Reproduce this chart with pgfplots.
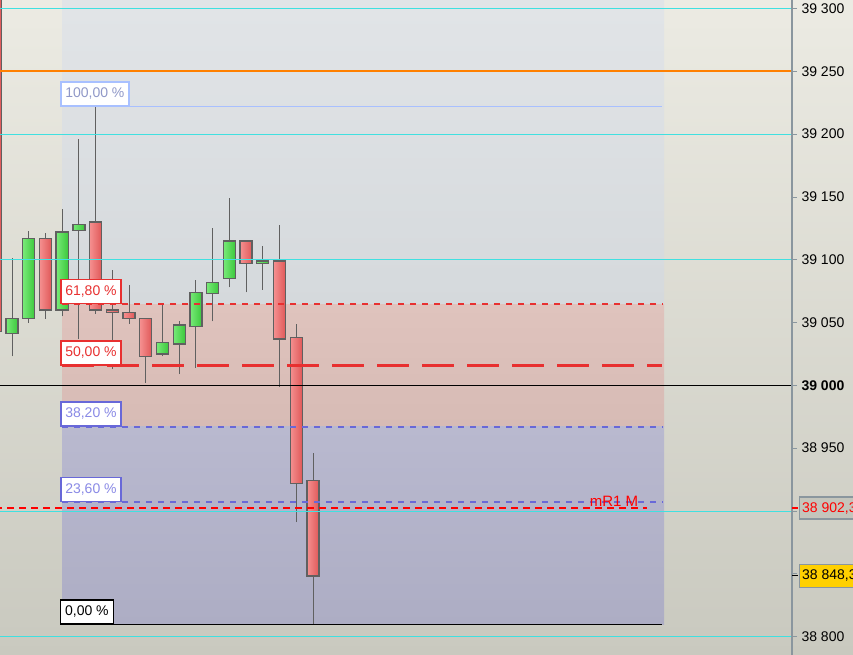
\documentclass[border=0pt]{standalone}
\usepackage{pgfplots}
\pgfplotsset{compat=1.18}
\usepackage{fontspec}
\setmainfont{Liberation Sans}

\definecolor{bgtop}{HTML}{ECEBE3}
\definecolor{bgbot}{HTML}{C9C9BF}
\definecolor{zoneAtop}{HTML}{E2E5E8}
\definecolor{zoneAbot}{HTML}{D5D9DC}
\definecolor{zoneBtop}{HTML}{DFC3BD}
\definecolor{zoneBbot}{HTML}{D7BBB5}
\definecolor{zoneCtop}{HTML}{B9B9CF}
\definecolor{zoneCbot}{HTML}{ADADC4}
\definecolor{gridc}{HTML}{40E0E0}
\definecolor{orangec}{HTML}{FF8000}
\definecolor{fibred}{HTML}{E83030}
\definecolor{fibpurple}{HTML}{6868D8}
\definecolor{fibpurpletext}{HTML}{8A8AE6}
\definecolor{fibblue}{HTML}{A8C0FF}
\definecolor{fibbluetext}{HTML}{9098C8}
\definecolor{upL}{HTML}{78EA78}
\definecolor{upR}{HTML}{3CC83C}
\definecolor{dnL}{HTML}{F59090}
\definecolor{dnR}{HTML}{E05858}
\definecolor{edge}{HTML}{606060}
\definecolor{axisgray}{HTML}{8A969E}
\definecolor{yellowc}{HTML}{FFD000}
\definecolor{labgray}{HTML}{C4C5BC}

\newcommand\lab{\fontsize{14bp}{16bp}\selectfont}

\pgfplotsset{
  wick/.style={draw=edge, line width=0.9bp},
  up/.style={draw=edge, line width=1.3bp, left color=upL, right color=upR},
  down/.style={draw=edge, line width=1.3bp, left color=dnL, right color=dnR},
  fibline/.style={line width=2bp, dash pattern=on 6bp off 6bp},
}

% #1 up/down, #2 position, #3 low, #4 body bottom, #5 body top, #6 high
\newcommand{\candle}[6]{%
  \pgfmathsetmacro\cxl{#2-0.36}\pgfmathsetmacro\cxr{#2+0.36}%
  \addplot[wick] coordinates {(#2,#3) (#2,#6)};
  \addplot[#1] coordinates {(\cxl,#4) (\cxr,#4) (\cxr,#5) (\cxl,#5)} -- cycle;
}

\begin{document}
\begin{tikzpicture}
\useasboundingbox (0,0) rectangle (853bp,655bp);
\shade[top color=bgtop, bottom color=bgbot] (0,0) rectangle (853bp,655bp);
\begin{axis}[
  at={(0,0)}, anchor=south west,
  scale only axis, width=792bp, height=655bp,
  xmin=0.2823, xmax=47.65,
  ymin=38785.3, ymax=39306.8,
  axis line style={draw=none},
  xtick=\empty,
  scaled y ticks=false,
  ytick={38800,38850,38900,38950,39000,39050,39100,39150,39200,39250,39300},
  yticklabels={38 800,{},{},38 950,\textbf{39 000},39 050,39 100,39 150,39 200,39 250,39 300},
  ytick pos=right, yticklabel pos=right,
  tick align=outside,
  major tick length=5bp,
  every tick/.style={draw=axisgray, line width=0.8bp},
  yticklabel style={font=\lab, anchor=west, xshift=1bp},
]

% fibonacci zones
\addplot[draw=none, top color=zoneAtop, bottom color=zoneAbot]
  coordinates {(4,39064.4) (40,39064.4) (40,39320) (4,39320)};
\addplot[draw=none, top color=zoneBtop, bottom color=zoneBbot]
  coordinates {(4,38967.1) (40,38967.1) (40,39064.4) (4,39064.4)};
\addplot[draw=none, top color=zoneCtop, bottom color=zoneCbot]
  coordinates {(4,38809.5) (40,38809.5) (40,38967.1) (4,38967.1)};

% candles
\candle{down}{0}{39040}{39043}{39330}{39340}
\candle{up}{1}{39023}{39041}{39053}{39101}
\candle{up}{2}{39050}{39053}{39117}{39123}
\candle{down}{3}{39053}{39060}{39117}{39121}
\candle{up}{4}{39055}{39060}{39122}{39140}
\candle{up}{5}{39037}{39123}{39128}{39196}
\candle{down}{6}{39057}{39060}{39130}{39222}
\candle{down}{7}{39013}{39058}{39060}{39092}
\candle{down}{8}{39049}{39053}{39058}{39080}
\candle{down}{9}{39002}{39023}{39053}{39054}
\candle{up}{10}{39023}{39025}{39034}{39064}
\candle{up}{11}{39009}{39033}{39048}{39051}
\candle{up}{12}{39014}{39047}{39074}{39084}
\candle{up}{13}{39051}{39073}{39082}{39125}
\candle{up}{14}{39078}{39085}{39115}{39149}
\candle{down}{15}{39074}{39097}{39115}{39115}
\candle{up}{16}{39076}{39097}{39099}{39111}
\candle{down}{17}{38999}{39037}{39099}{39128}
\candle{down}{18}{38891}{38922}{39038}{39049}
\candle{down}{19}{38809.5}{38848.3}{38924}{38946}

% grid lines
\pgfplotsinvokeforeach{38800,38900,39100,39200,39300}{
  \addplot[gridc, line width=0.8bp] coordinates {(0,#1) (48,#1)};
}
\addplot[orangec, line width=1.8bp] coordinates {(0,39250) (48,39250)};
\addplot[black, line width=0.9bp] coordinates {(0,39000) (48,39000)};

% fibonacci levels
\addplot[fibblue, line width=0.9bp] coordinates {(4,39222) (39.9,39222)};
\addplot[fibred, fibline] coordinates {(4,39064.4) (39.9,39064.4)};
\addplot[fibred, line width=3bp, dash pattern=on 32bp off 13bp] coordinates {(4,39015.75) (39.9,39015.75)};
\addplot[fibpurple, fibline] coordinates {(4,38967.1) (39.9,38967.1)};
\addplot[fibpurple, fibline] coordinates {(4,38906.9) (39.9,38906.9)};
\addplot[black, line width=1.5bp] coordinates {(4,38809.5) (39.9,38809.5)};

% mR1 M
\addplot[red, line width=2.2bp, dash pattern=on 7bp off 5bp] coordinates {(0,38902.3) (39,38902.3)};
\node[red, anchor=south, inner sep=1bp, font=\fontsize{15bp}{17bp}\selectfont] at (axis cs:37,38902.3) {mR1 M};

% level labels
\tikzset{fiblab/.style={anchor=south west, fill=white, line width=1.6bp,
  inner xsep=4.5bp, inner ysep=0pt, minimum height=24bp, font=\lab}}
\node[fiblab, draw=fibblue, text=fibbluetext] at (axis cs:3.87,39222) {100,00 \%};
\node[fiblab, draw=fibred, text=fibred] at (axis cs:3.87,39064.4) {61,80 \%};
\node[fiblab, draw=fibred, text=fibred] at (axis cs:3.87,39015.75) {50,00 \%};
\node[fiblab, draw=fibpurple, text=fibpurpletext] at (axis cs:3.87,38967.1) {38,20 \%};
\node[fiblab, draw=fibpurple, text=fibpurpletext] at (axis cs:3.87,38906.9) {23,60 \%};
\node[fiblab, draw=black, line width=1.2bp, text=black] at (axis cs:3.87,38809.5) {0,00 \%};

\coordinate (mr) at (axis cs:47.65,38902.3);
\coordinate (cp) at (axis cs:47.65,38848.3);
\end{axis}

\draw[axisgray, line width=1.2bp] (792bp,0) -- (792bp,655bp);
\draw[red, line width=1.2bp] (mr) -- ++(6bp,0);
\draw[black, line width=1.2bp] (cp) -- ++(6bp,0);
\node[anchor=west, fill=labgray, draw=axisgray, line width=1.2bp, text=red,
  inner xsep=2.5bp, inner ysep=0pt, minimum height=22bp, font=\lab] at ([xshift=7bp]mr) {38 902,3};
\node[anchor=west, fill=yellowc, draw=axisgray, line width=1.2bp, text=black,
  inner xsep=2.5bp, inner ysep=0pt, minimum height=23bp, font=\lab] at ([xshift=7bp]cp) {38 848,3};
\end{tikzpicture}
\end{document}
